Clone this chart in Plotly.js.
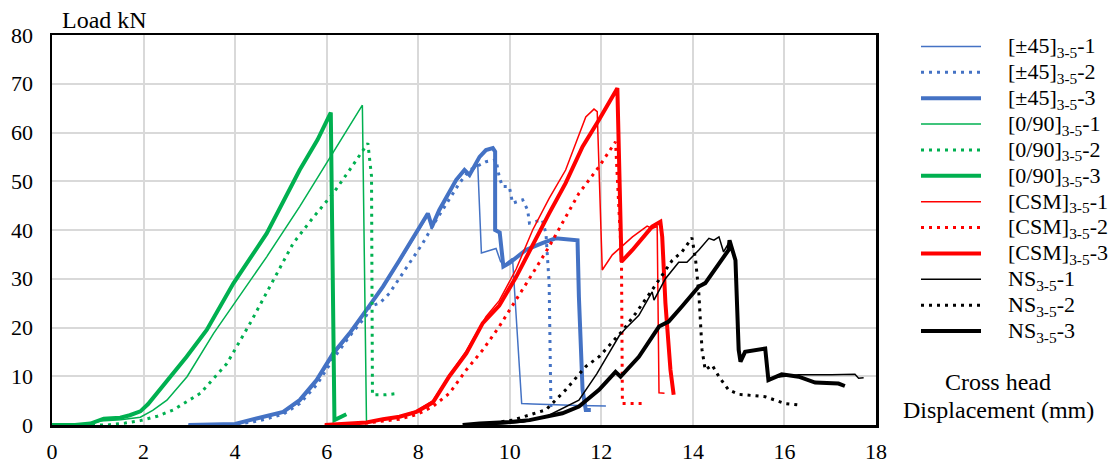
<!DOCTYPE html>
<html>
<head>
<meta charset="utf-8">
<script src="https://cdn.plot.ly/plotly-3.0.1.min.js"></script>
<style>html,body{margin:0;padding:0;background:#fff;}#chart{width:1114px;height:466px;}</style>
</head>
<body>
<div id="chart"></div>
<script>
// ---- series labels ----
const seriesNames = [
  '[±45]<sub>3-5</sub>-1', '[±45]<sub>3-5</sub>-2', '[±45]<sub>3-5</sub>-3',
  '[0/90]<sub>3-5</sub>-1', '[0/90]<sub>3-5</sub>-2', '[0/90]<sub>3-5</sub>-3',
  '[CSM]<sub>3-5</sub>-1', '[CSM]<sub>3-5</sub>-2', '[CSM]<sub>3-5</sub>-3',
  'NS<sub>3-5</sub>-1', 'NS<sub>3-5</sub>-2', 'NS<sub>3-5</sub>-3'
];
const xTicks = [0, 2, 4, 6, 8, 10, 12, 14, 16, 18];
const yTicks = [0, 10, 20, 30, 40, 50, 60, 70, 80];

// ---- [±45] ----
const pm45_1_x = [2.98, 4.0, 4.32, 5.05, 5.41, 5.78, 6.14, 6.5, 6.87, 7.23, 7.59, 7.96, 8.21, 8.3, 8.46, 8.83, 9.01, 9.12, 9.3, 9.38, 9.7, 9.8, 9.9, 10.06, 10.26, 10.5, 11.0, 11.5, 12.1];
const pm45_1_y = [0, 0.2, 0.9, 2.5, 4.8, 8.8, 14.2, 18.5, 23.4, 28.2, 33.5, 39.0, 43.0, 40.5, 43.8, 50.0, 52.0, 51.3, 53.5, 35.3, 36.2, 33.5, 33.0, 34.2, 4.4, 4.3, 4.1, 4.0, 3.9];
const pm45_2_x = [3.0, 4.0, 4.5, 5.05, 5.41, 5.78, 6.14, 6.5, 6.87, 6.94, 7.16, 7.37, 7.66, 8.1, 8.39, 8.68, 8.9, 9.12, 9.48, 9.7, 9.77, 9.84, 9.99, 10.06, 10.28, 10.39, 10.43, 10.71, 10.79, 10.86, 10.9];
const pm45_2_y = [0, 0.1, 0.8, 2.2, 4.4, 8.2, 13.5, 18.2, 22.5, 24.3, 25.0, 27.0, 31.1, 37.3, 42.0, 46.2, 49.6, 52.3, 54.0, 54.4, 50.9, 48.9, 48.9, 45.5, 46.2, 44.1, 41.4, 42.1, 39.3, 29.0, 3.1];
const pm45_3_x = [2.98, 3.5, 4.0, 4.32, 4.7, 5.05, 5.41, 5.78, 6.14, 6.5, 6.87, 7.23, 7.59, 7.96, 8.21, 8.3, 8.46, 8.83, 9.01, 9.12, 9.34, 9.48, 9.63, 9.68, 9.68, 9.78, 9.86, 9.99, 10.35, 10.71, 11.0, 11.48, 11.51, 11.59, 11.66, 11.77];
const pm45_3_y = [0, 0, 0.2, 1.0, 1.8, 2.7, 5.1, 9.2, 14.7, 18.8, 23.6, 28.4, 33.8, 39.3, 43.4, 40.7, 44.1, 50.3, 52.3, 51.3, 55.0, 56.4, 56.8, 56.1, 40.0, 39.5, 32.5, 33.2, 35.9, 37.3, 38.3, 37.9, 26.3, 7.2, 3.1, 3.1];

// ---- [0/90] ----
const c090_1_x = [0, 0.8, 1.06, 1.5, 1.93, 2.2, 2.51, 2.95, 3.53, 3.96, 4.69, 5.41, 6.09, 6.78, 6.87];
const c090_1_y = [0, 0.1, 0.8, 1.1, 1.6, 3.0, 5.1, 9.9, 18.8, 24.6, 34.5, 44.8, 55.0, 65.6, 0.7];
const c090_2_x = [0, 1.2, 1.6, 1.93, 2.3, 2.65, 3.24, 3.82, 4.33, 4.83, 5.27, 5.7, 6.14, 6.5, 6.9, 6.98, 7.0, 7.3, 7.48];
const c090_2_y = [0, 0, 0.4, 0.9, 1.8, 3.1, 6.5, 12.6, 20.9, 29.7, 37.3, 42.5, 47.5, 52.3, 57.8, 51.0, 6.2, 6.2, 6.4];
const c090_3_x = [0, 0.5, 0.84, 1.0, 1.13, 1.3, 1.49, 1.7, 1.93, 2.1, 2.29, 2.65, 2.94, 3.38, 3.96, 4.69, 5.41, 5.8, 6.09, 6.17, 6.43];
const c090_3_y = [0, 0, 0.3, 0.8, 1.3, 1.4, 1.5, 2.0, 2.8, 4.3, 6.5, 10.6, 14.0, 19.5, 29.0, 39.3, 52.3, 58.5, 64.1, 1.0, 2.2];

// ---- [CSM] ----
const csm_1_x = [5.96, 6.87, 7.59, 7.96, 8.32, 8.68, 9.05, 9.41, 9.48, 9.77, 10.14, 10.5, 10.86, 11.22, 11.66, 11.84, 11.91, 12.02, 12.24, 12.68, 13.0, 13.11, 13.22, 13.26, 13.38];
const csm_1_y = [0, 0.5, 1.8, 2.9, 5.0, 10.2, 15.2, 21.0, 22.2, 25.5, 32.0, 40.0, 46.5, 52.3, 63.2, 64.8, 64.3, 31.8, 34.9, 38.6, 40.8, 40.3, 40.7, 6.6, 6.5];
const csm_2_x = [5.96, 6.87, 7.59, 7.96, 8.32, 8.68, 9.05, 9.41, 9.77, 10.14, 10.5, 10.86, 11.51, 11.95, 12.31, 12.44, 12.46, 12.67, 12.9];
const csm_2_y = [0, 0.4, 1.2, 2.1, 3.8, 6.5, 11.3, 15.4, 20.2, 25.6, 31.1, 36.6, 47.5, 53.0, 58.1, 34.0, 4.4, 4.4, 4.4];
const csm_3_x = [5.96, 6.5, 6.87, 7.23, 7.59, 7.96, 8.32, 8.68, 9.05, 9.41, 9.77, 10.14, 10.5, 10.86, 11.22, 11.59, 11.95, 12.35, 12.44, 12.68, 13.11, 13.29, 13.33, 13.4, 13.51, 13.58];
const csm_3_y = [0, 0.2, 0.5, 1.2, 1.7, 2.7, 4.6, 10.0, 14.7, 20.9, 24.5, 30.4, 37.0, 43.4, 49.6, 57.1, 62.6, 69.1, 33.5, 35.9, 40.7, 41.7, 38.6, 25.0, 11.3, 6.2];

// ---- NS ----
const ns_1_x = [9.5, 10.3, 10.79, 11.51, 11.9, 12.39, 12.53, 12.82, 13.11, 13.15, 13.4, 13.69, 13.87, 14.13, 14.35, 14.46, 14.57, 14.67, 14.8, 14.93, 15.0, 15.07, 15.14, 15.58, 15.65, 16.31, 17.03, 17.54, 17.62, 17.73];
const ns_1_y = [0, 0.6, 1.7, 5.1, 10.5, 18.3, 19.8, 22.5, 27.3, 25.6, 30.0, 33.4, 33.4, 35.9, 38.3, 37.9, 38.6, 35.5, 37.6, 33.8, 15.4, 13.7, 15.0, 15.7, 9.6, 10.3, 10.3, 10.4, 9.6, 9.7];
const ns_2_x = [9.3, 10.06, 10.79, 11.22, 11.66, 11.95, 12.46, 12.75, 13.11, 13.55, 13.76, 13.98, 14.06, 14.13, 14.2, 14.27, 14.42, 14.57, 14.78, 15.0, 15.58, 16.01, 16.31];
const ns_2_y = [0, 1.0, 3.1, 7.2, 12.0, 14.0, 19.3, 22.9, 27.7, 33.8, 35.5, 38.4, 33.8, 27.0, 15.4, 11.3, 12.3, 9.9, 7.2, 6.3, 5.8, 4.4, 4.1];
const ns_3_x = [8.97, 9.34, 10.0, 10.43, 11.15, 11.51, 11.95, 12.31, 12.42, 12.82, 13.26, 13.47, 13.76, 14.13, 14.27, 14.78, 14.8, 14.93, 15.0, 15.04, 15.14, 15.58, 15.65, 15.94, 16.31, 16.67, 17.18, 17.32];
const ns_3_y = [0, 0.3, 0.6, 1.0, 2.4, 3.8, 7.2, 10.9, 9.9, 14.0, 20.2, 21.2, 24.3, 28.4, 29.1, 35.9, 37.9, 33.8, 15.4, 13.0, 15.0, 15.7, 9.2, 10.4, 9.9, 8.7, 8.5, 8.0];

const BLUE = '#4472C4', GREEN = '#00B050', RED = '#FF0000', BLACK = '#000000';
const FONT = '"Liberation Serif", "Times New Roman", serif';
const PAD = '\u00A0\u00A0\u00A0\u00A0';

const xs = [pm45_1_x, pm45_2_x, pm45_3_x, c090_1_x, c090_2_x, c090_3_x, csm_1_x, csm_2_x, csm_3_x, ns_1_x, ns_2_x, ns_3_x];
const ys = [pm45_1_y, pm45_2_y, pm45_3_y, c090_1_y, c090_2_y, c090_3_y, csm_1_y, csm_2_y, csm_3_y, ns_1_y, ns_2_y, ns_3_y];
const colors = [BLUE, GREEN, RED, BLACK];
const styles = [
  {width: 1.5, dash: 'solid'},
  {width: 3, dash: '3px,5px'},
  {width: 4, dash: 'solid'}
];

const traces = xs.map((x, i) => {
  const s = styles[i % 3];
  return {
    type: 'scatter', mode: 'lines',
    x: x, y: ys[i],
    name: '<span style="font-size:22px">' + PAD + seriesNames[i] + '</span>',
    line: {color: colors[Math.floor(i / 3)], width: s.width, dash: s.dash},
    hoverinfo: 'x+y'
  };
});

// plot area: x 52..876 px, y 35..425 px
const PL = 52, PW = 824, PT = 35, PH = 390;
const px2paperX = p => (p - PL) / PW;
const px2paperY = p => (PT + PH - p) / PH;

const layout = {
  width: 1114, height: 466,
  margin: {l: PL, r: 1114 - PL - PW, t: PT, b: 466 - PT - PH},
  paper_bgcolor: '#ffffff', plot_bgcolor: '#ffffff',
  font: {family: FONT, size: 22, color: '#000'},
  showlegend: true,
  legend: {
    xref: 'container', yref: 'paper',
    x: 916 / 1114, xanchor: 'left',
    y: px2paperY(189), yanchor: 'middle',
    font: {family: FONT, size: 17.6, color: '#000'},
    itemwidth: 60,
    bgcolor: 'rgba(0,0,0,0)',
    borderwidth: 0,
    tracegroupgap: 0
  },
  xaxis: {
    range: [0, 18], tickvals: xTicks, ticktext: xTicks.map(String),
    showgrid: true, gridcolor: '#d9d9d9', gridwidth: 2,
    zeroline: false,
    showline: true, linecolor: '#000', linewidth: 2.5, mirror: true,
    ticks: '', ticklabelstandoff: 5,
    tickfont: {family: FONT, size: 22, color: '#000'},
    layer: 'below traces', fixedrange: true
  },
  yaxis: {
    range: [0, 80], tickvals: yTicks, ticktext: yTicks.map(String),
    showgrid: true, gridcolor: '#d9d9d9', gridwidth: 2,
    zeroline: false,
    showline: true, linecolor: '#000', linewidth: 2.5, mirror: true,
    ticks: '', ticklabelstandoff: 12,
    tickfont: {family: FONT, size: 22, color: '#000'},
    layer: 'below traces', fixedrange: true
  },
  annotations: [
    {text: 'Load kN', xref: 'paper', yref: 'paper', x: px2paperX(60), y: px2paperY(20),
     xanchor: 'left', yanchor: 'middle',
     showarrow: false, font: {family: FONT, size: 24, color: '#000'}},
    {text: 'Cross head', xref: 'paper', yref: 'paper', x: px2paperX(998), y: px2paperY(382),
     xanchor: 'center', yanchor: 'middle', showarrow: false, font: {family: FONT, size: 24, color: '#000'}},
    {text: 'Displacement (mm)', xref: 'paper', yref: 'paper', x: px2paperX(998), y: px2paperY(410),
     xanchor: 'center', yanchor: 'middle', showarrow: false, font: {family: FONT, size: 24, color: '#000'}}
  ]
};

Plotly.newPlot('chart', traces, layout, {displayModeBar: false, staticPlot: true});
</script>
</body>
</html>
